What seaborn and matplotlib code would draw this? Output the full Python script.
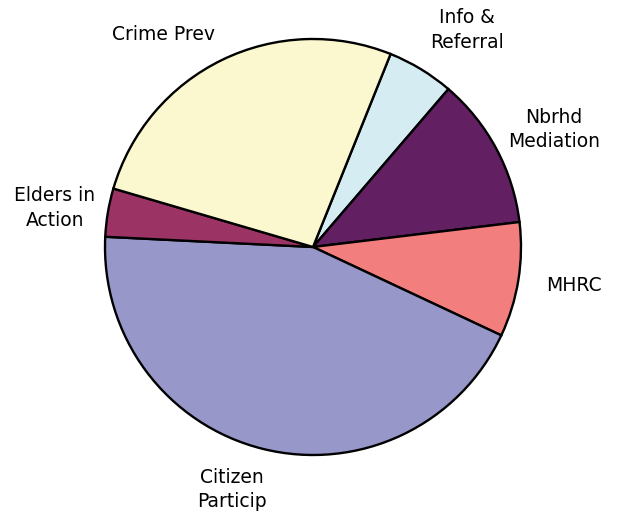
import matplotlib
matplotlib.use("Agg")
import matplotlib.pyplot as plt
import seaborn as sns
import numpy as np

categories = ["Info &\nReferral", "Nbrhd\nMediation", "MHRC", "Citizen\nParticip", "Elders in\nAction", "Crime Prev"]
values = [5.2, 11.8, 8.9, 43.8, 3.75, 26.55]
colors = ["#d5ecf3", "#622062", "#f27e7e", "#9897ca", "#9b3465", "#fbf8d0"]
# label placement (angle deg, distance as fraction of radius)
label_angles = [54.6, 26.0, -8.3, -108.5, 171.4, 125.0]
label_dist = [1.28, 1.29, 1.27, 1.23, 1.255, 1.25]

sns.set_theme(style="white")
plt.rcParams['font.family'] = ['DejaVu Sans']

W, H = 617, 516
fig = plt.figure(figsize=(W / 100, H / 100), dpi=100)
ax = fig.add_axes([0, 0, 1, 1])

cx, cy, r = 313, H - 247, 208
ax.pie(values, colors=colors, startangle=68.1, counterclock=False,
       center=(cx, cy), radius=r, frame=True,
       wedgeprops=dict(edgecolor="black", linewidth=1.7))
ax.set_xlim(0, W)
ax.set_ylim(0, H)
ax.set_aspect("equal")
ax.axis("off")

for lab, a, d in zip(categories, label_angles, label_dist):
    t = np.deg2rad(a)
    ax.text(cx + r * d * np.cos(t), cy + r * d * np.sin(t), lab,
            ha="center", va="center", fontsize=13.5, color="black",
            linespacing=1.35)

fig.savefig("out.png", dpi=100, facecolor="white")
